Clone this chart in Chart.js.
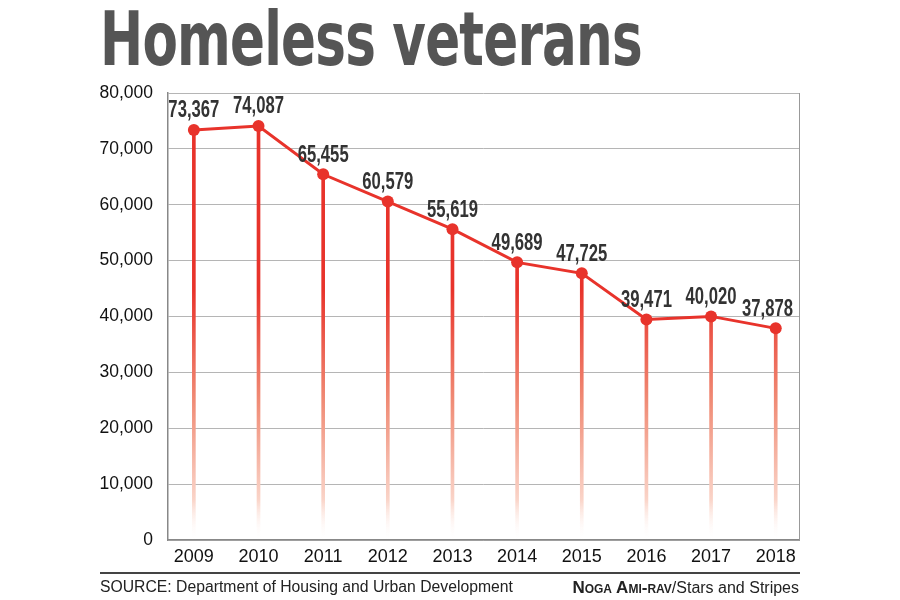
<!DOCTYPE html>
<html>
<head>
<meta charset="utf-8">
<script src="https://cdn.jsdelivr.net/npm/chart.js@4"></script>
<style>
  html, body { margin:0; padding:0; background:#fff; }
  #wrap { position:relative; width:900px; height:600px; overflow:hidden; }
  canvas { position:absolute; left:0; top:0; }
  #title { position:absolute; left:100px; top:-4px; font-family:"DejaVu Sans Condensed","Liberation Sans",Arial,sans-serif; font-weight:bold; font-size:74px; color:#555; white-space:nowrap; transform-origin:0 0; letter-spacing:-1px; }
  #rule { position:absolute; left:100px; top:572px; width:700px; height:2px; background:#444; }
  #source { position:absolute; left:100px; top:578px; font-family:"Liberation Sans",Arial,sans-serif; font-size:16px; color:#222; white-space:nowrap; transform-origin:0 0; }
  #credit { position:absolute; right:101px; top:578px; font-family:"Liberation Sans",Arial,sans-serif; font-size:16px; color:#222; white-space:nowrap; }
  #credit b { font-variant:small-caps; font-weight:bold; font-size:17px; }
</style>
</head>
<body>
<div id="wrap">
  <canvas id="c" width="900" height="600"></canvas>
  <div id="title">Homeless veterans</div>
  <div id="rule"></div>
  <div id="source">SOURCE: Department of Housing and Urban Development</div>
  <div id="credit"><b>Noga Ami-rav</b>/Stars and Stripes</div>
</div>
<script>
const years = [2009, 2010, 2011, 2012, 2013, 2014, 2015, 2016, 2017, 2018];
const homelessVeterans = [73367, 74087, 65455, 60579, 55619, 49689, 47725, 39471, 40020, 37878];
const yTicks = [0, 10000, 20000, 30000, 40000, 50000, 60000, 70000, 80000];

const points = years.map((y, i) => ({ x: y, y: homelessVeterans[i] }));
const RED = '#e8332b';

(function(){
  const t = document.getElementById('title');
  const w = t.getBoundingClientRect().width;
  t.style.transform = 'scaleX(' + (542 / w) + ')';
  const s = document.getElementById('source');
  const ws = s.getBoundingClientRect().width;
  s.style.transform = 'scaleX(' + (413 / ws) + ')';
})();

function dropGradient(ctx) {
  const chart = ctx.chart;
  const a = chart.chartArea;
  if (!a) return RED;
  const g = chart.ctx.createLinearGradient(0, a.top, 0, a.bottom);
  g.addColorStop(0, RED);
  g.addColorStop(0.44, RED);
  g.addColorStop(0.69, 'rgb(240,140,118)');
  g.addColorStop(0.91, 'rgb(250,212,200)');
  g.addColorStop(1, 'rgba(255,255,255,0)');
  return g;
}

const labelPlugin = {
  id: 'valueLabels',
  afterDatasetsDraw(chart) {
    const meta = chart.getDatasetMeta(0);
    const ctx = chart.ctx;
    const area = chart.chartArea;
    ctx.save();
    ctx.font = 'bold 23px "Liberation Sans", Arial, sans-serif';
    ctx.fillStyle = '#333';
    ctx.textAlign = 'center';
    ctx.textBaseline = 'middle';
    const ref = ctx.measureText('73,367').width;
    const sx = 51 / ref;
    meta.data.forEach((el, i) => {
      const txt = homelessVeterans[i].toLocaleString('en-US');
      const half = ctx.measureText(txt).width * sx / 2;
      let x = el.x;
      if (x + half > area.right - 6) x = area.right - 6 - half;
      ctx.save();
      ctx.translate(x, el.y - 19);
      ctx.scale(sx, 1);
      ctx.fillText(txt, 0, 0);
      ctx.restore();
    });
    ctx.restore();
  }
};

new Chart(document.getElementById('c'), {
  data: {
    datasets: [
      {
        type: 'line',
        data: points,
        borderColor: RED,
        borderWidth: 3,
        backgroundColor: RED,
        pointRadius: 6,
        pointBackgroundColor: RED,
        pointBorderWidth: 0,
        tension: 0,
        order: 0
      },
      {
        type: 'bar',
        data: points,
        backgroundColor: dropGradient,
        barThickness: 3,
        borderWidth: 0,
        order: 1
      }
    ]
  },
  options: {
    responsive: false,
    animation: false,
    devicePixelRatio: 1,
    layout: { padding: { left: 0, right: 101, top: 93, bottom: 20 } },
    plugins: { legend: { display: false }, tooltip: { enabled: false }, title: { display: false } },
    scales: {
      x: {
        type: 'linear',
        min: 2008.6,
        max: 2018.36,
        offset: false,
        afterBuildTicks: s => { s.ticks = years.map(v => ({ value: v })); },
        afterFit: s => { s.height = 40; },
        grid: { display: false, drawTicks: false },
        border: { display: true, color: '#888', width: 1.5 },
        ticks: {
          padding: 6,
          color: '#111',
          font: { family: '"Liberation Sans", Arial, sans-serif', size: 18 },
          callback: v => String(v),
          autoSkip: false,
          maxRotation: 0
        }
      },
      y: {
        min: 0,
        max: 80000,
        afterBuildTicks: s => { s.ticks = yTicks.map(v => ({ value: v })); },
        afterFit: s => { s.width = 168; },
        grid: { color: '#b5b5b5', lineWidth: 1, drawTicks: false },
        border: { display: true, color: '#888', width: 1.5 },
        ticks: {
          padding: 15,
          color: '#111',
          font: { family: '"Liberation Sans", Arial, sans-serif', size: 17.5 },
          callback: v => v.toLocaleString('en-US')
        }
      },
      yR: {
        position: 'right',
        min: 0,
        max: 80000,
        afterFit: s => { s.width = 0; },
        grid: { display: false, drawTicks: false },
        border: { display: true, color: '#999', width: 1 },
        ticks: { display: false }
      }
    }
  },
  plugins: [labelPlugin]
});
</script>
</body>
</html>
